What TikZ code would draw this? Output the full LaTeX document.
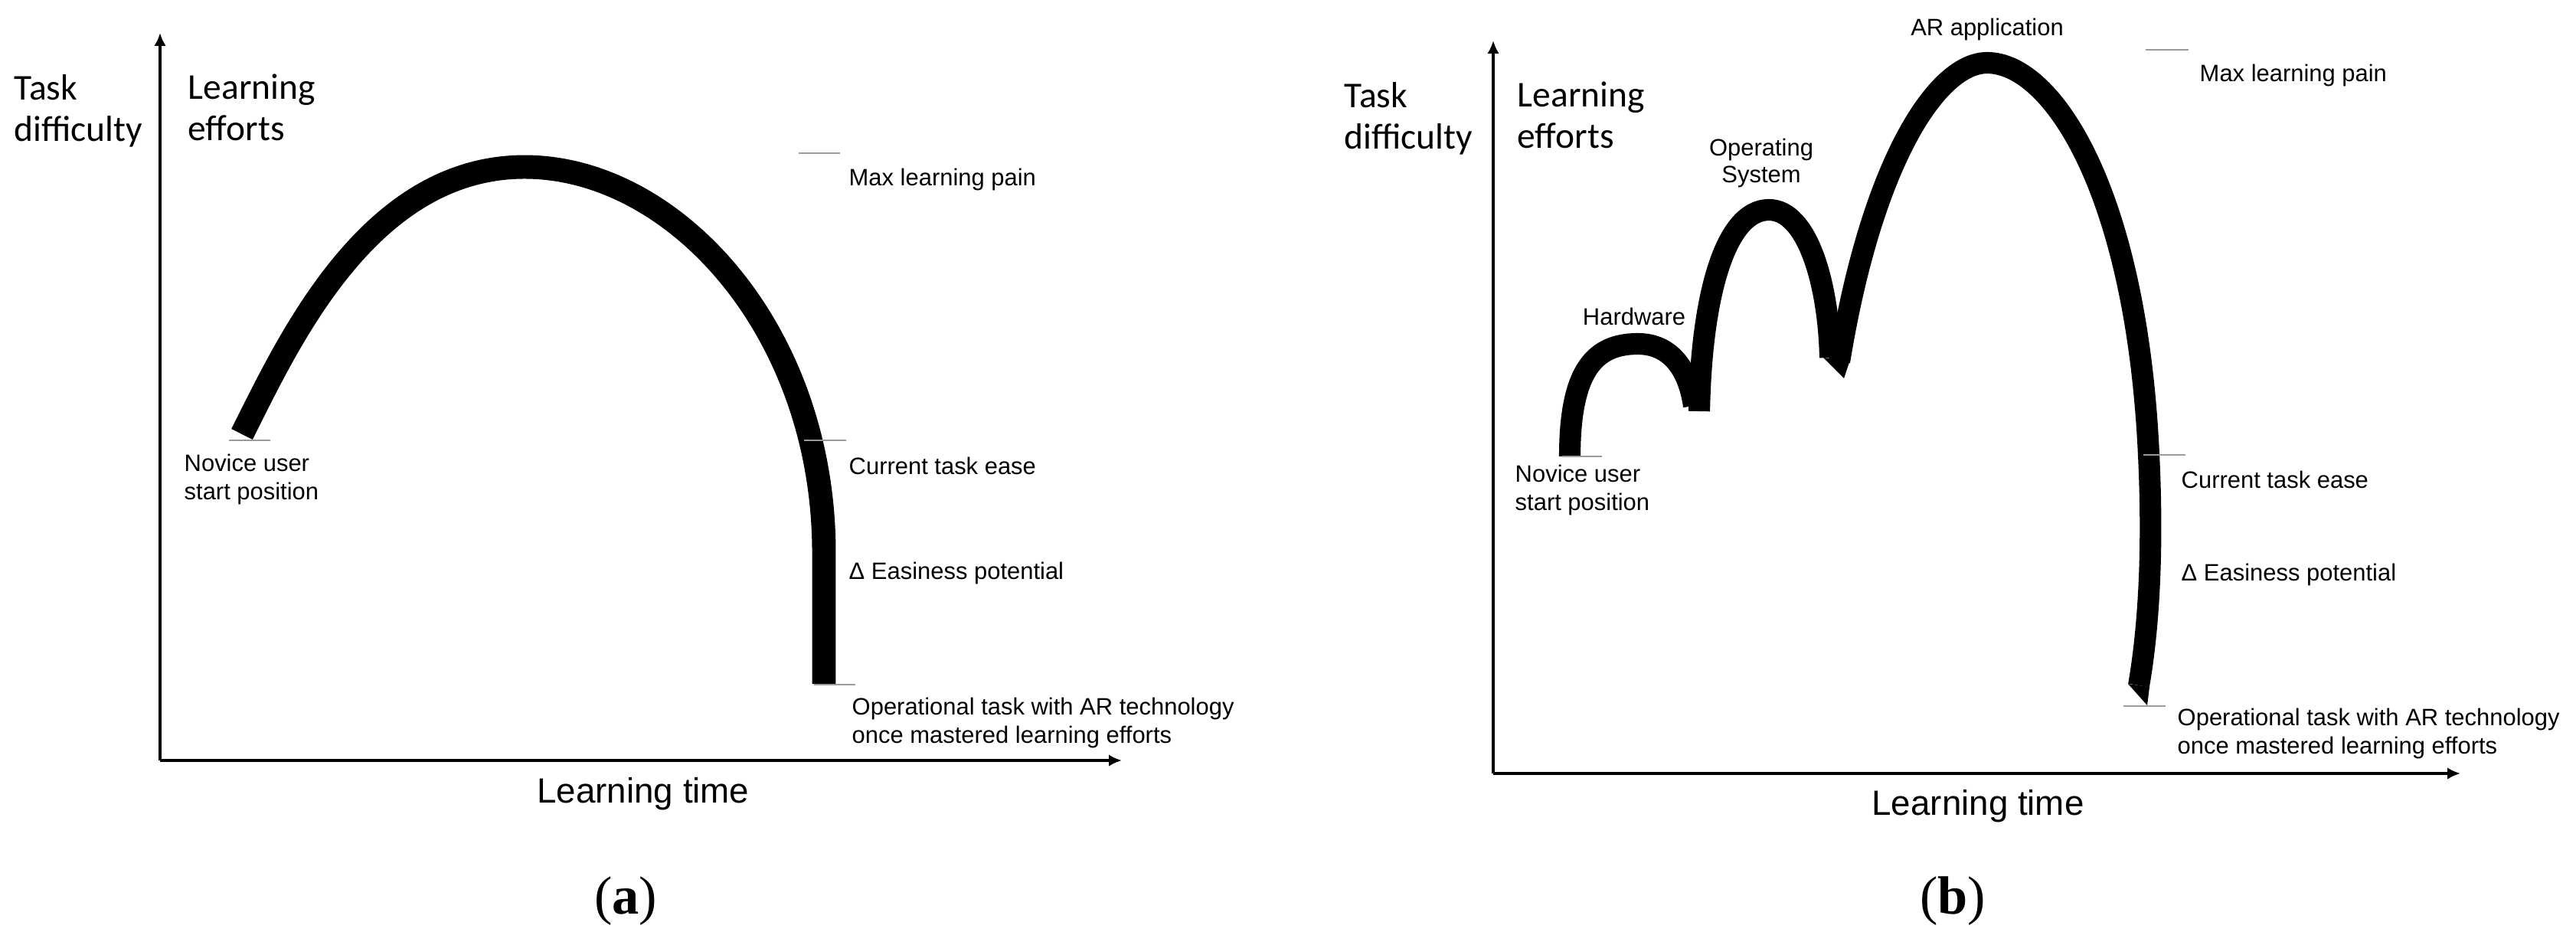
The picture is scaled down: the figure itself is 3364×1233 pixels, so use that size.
\documentclass[tikz,border=0pt]{standalone}
\usepackage{fontspec}
\setmainfont{Liberation Sans}
\newfontfamily\calfont{Carlito}
\newfontfamily\capfont{Liberation Serif}
\usetikzlibrary{arrows.meta}
\definecolor{tickgray}{RGB}{155,155,155}
\begin{document}
\begin{tikzpicture}[x=0.01cm,y=-0.01cm,
  axis/.style={line width=1.1pt,-{Latex[length=4.8pt,width=4.4pt]}},
  curvea/.style={line width=8.8pt,line cap=butt,line join=round},
  curveb/.style={line width=8pt,line cap=butt,line join=round},
  tickline/.style={draw=tickgray,line width=0.8pt},
  lbl/.style={font=\fontsize{8.8}{10.5}\selectfont,inner sep=0pt,align=left,anchor=west},
  axlbl/.style={font=\calfont\fontsize{13.5}{15.4}\selectfont,inner sep=0pt,align=left,anchor=west},
  peaklbl/.style={font=\fontsize{8.8}{10}\selectfont,inner sep=0pt,align=center},
  timelbl/.style={font=\fontsize{13}{15}\selectfont,inner sep=0pt},
  caplbl/.style={font=\capfont\fontsize{20}{24}\selectfont,inner sep=0pt}]
\useasboundingbox (0,0) rectangle (3364,1233);

% ---------------- panel (a) ----------------
\coordinate (ao) at (209,993);
\coordinate (ay) at (209,43);
\coordinate (ax) at (1465,993);
\draw[axis] (ao) -- (ay);
\draw[axis] (ao) -- (ax);

\draw[curvea] (316,567) .. controls (375,450) and (480,218) .. (685,218)
  .. controls (880,218) and (1075,430) .. (1076,720) -- (1076,893);

\coordinate (amaxl) at (1043,200);  \coordinate (amaxr) at (1097,200);
\coordinate (anovl) at (299,575);   \coordinate (anovr) at (353,575);
\coordinate (acurl) at (1050,575);  \coordinate (acurr) at (1105,575);
\coordinate (aopl) at (1063,894);   \coordinate (aopr) at (1117,894);
\draw[tickline] (amaxl) -- (amaxr);
\draw[tickline] (anovl) -- (anovr);
\draw[tickline] (acurl) -- (acurr);
\draw[tickline] (aopl) -- (aopr);

\node[axlbl] (atask) at (18,145) {Task\\difficulty};
\node[axlbl] (aeff) at (245,140) {Learning\\efforts};
\node[lbl] (amax) at (1108,234) {Max learning pain};
\node[lbl] (acur) at (1108,608) {Current task ease};
\node[lbl] (adelta) at (1108,748) {Δ Easiness potential};
\node[lbl] (aop) at (1112,944) {Operational task with AR technology\\once mastered learning efforts};
\node[lbl] (anov) at (240,626) {Novice user\\start position};
\node[timelbl] (atime) at (840,1037) {Learning time};
\node[caplbl] (acap) at (817,1177) {(\textbf{a})};

% ---------------- panel (b) ----------------
\coordinate (bo) at (1950,1010);
\coordinate (by) at (1950,53);
\coordinate (bx) at (3213,1010);
\draw[axis] (bo) -- (by);
\draw[axis] (bo) -- (bx);

\draw[curveb] (2050,596) .. controls (2050,480) and (2085,449) .. (2139,449)
  .. controls (2180,449) and (2205,480) .. (2212,530);
\draw[curveb] (2219,537) .. controls (2222,380) and (2255,274) .. (2310,274)
  .. controls (2360,274) and (2388,370) .. (2390,467);
\draw[curveb] (2402,472) .. controls (2445,210) and (2530,82) .. (2595,82)
  .. controls (2680,82) and (2790,250) .. (2806,594)
  .. controls (2812,720) and (2806,820) .. (2793,895);
\fill (2381,467) -- (2416,470) -- (2408,494) -- cycle;
\fill (2779,893) -- (2807,897) -- (2804,921) -- cycle;

\coordinate (bmaxl) at (2802,65);   \coordinate (bmaxr) at (2858,65);
\coordinate (bnovl) at (2040,596);  \coordinate (bnovr) at (2092,596);
\coordinate (bcurl) at (2799,594);  \coordinate (bcurr) at (2854,594);
\coordinate (bopl) at (2773,922);   \coordinate (bopr) at (2828,922);
\draw[tickline] (bmaxl) -- (bmaxr);
\draw[tickline] (bnovl) -- (bnovr);
\draw[tickline] (bcurl) -- (bcurr);
\draw[tickline] (bopl) -- (bopr);

\node[axlbl] (btask) at (1755,155) {Task\\difficulty};
\node[axlbl] (beff) at (1981,150) {Learning\\efforts};
\node[peaklbl] (bhw) at (2134,413) {Hardware};
\node[peaklbl] (bos) at (2300,213) {Operating\\System};
\node[peaklbl] (bar) at (2595,38) {AR application};
\node[lbl] (bmax) at (2872,98) {Max learning pain};
\node[lbl] (bcur) at (2848,626) {Current task ease};
\node[lbl] (bdelta) at (2848,750) {Δ Easiness potential};
\node[lbl] (bop) at (2843,958) {Operational task with AR technology\\once mastered learning efforts};
\node[lbl] (bnov) at (1978,640) {Novice user\\start position};
\node[timelbl] (btime) at (2583,1053) {Learning time};
\node[caplbl] (bcap) at (2550,1177) {(\textbf{b})};
\end{tikzpicture}
\end{document}
